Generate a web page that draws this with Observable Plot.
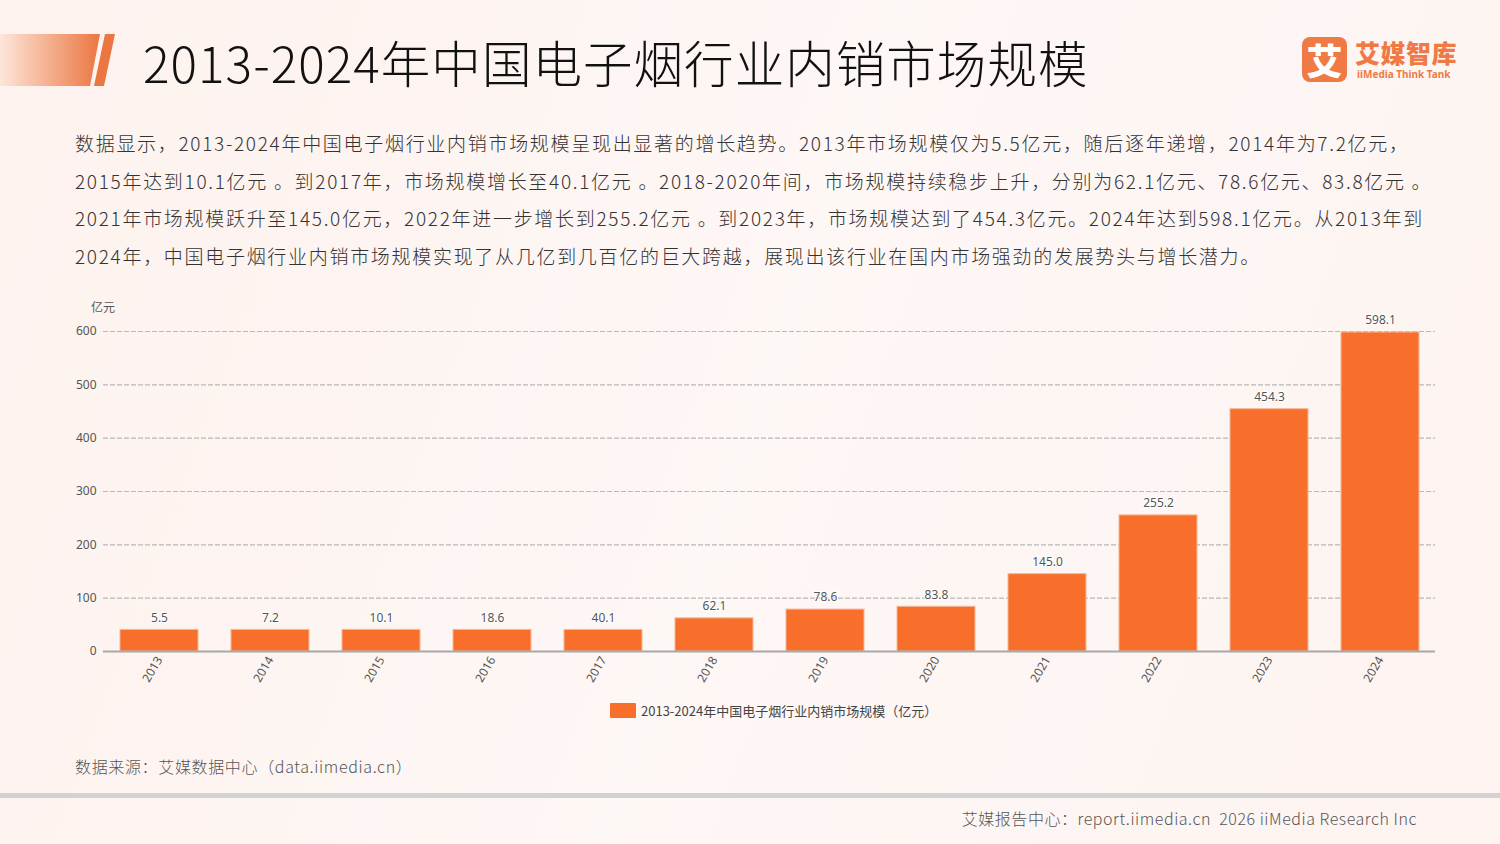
<!DOCTYPE html>
<html>
<head>
<meta charset="utf-8">
<script src="https://cdn.jsdelivr.net/npm/d3@7"></script>
<script src="https://cdn.jsdelivr.net/npm/@observablehq/plot@0.6"></script>
<style>
  html, body { margin: 0; padding: 0; }
  body {
    width: 1500px; height: 844px; position: relative; overflow: hidden;
    background: linear-gradient(110deg, #fdf2ee 0%, #fdf7f5 50%, #fdf4f1 100%);
    font-family: "Noto Sans CJK SC", "Noto Sans", sans-serif;
  }
  .abs { position: absolute; white-space: pre; }
  #title { left: 143px; top: 26px; font-size: 49.5px; color: #111; letter-spacing: 1.05px; font-weight: 300; }
  #para { left: 75px; top: 124px; font-size: 19px; color: #333; line-height: 37.7px; letter-spacing: 1.7px; font-weight: 300; }
  #unit { left: 91px; top: 298px; font-size: 12px; color: #555; }
  #legend { left: 610px; top: 701px; font-size: 13px; color: #444; display: flex; align-items: center; }
  #legend .sw { width: 26px; height: 15px; background: #f76f2b; margin-right: 5px; border-radius: 1px; }
  #source { left: 75px; top: 754px; font-size: 16px; color: #555; letter-spacing: 0.65px; font-weight: 300; }
  #sep { left: 0; top: 793px; width: 1500px; height: 5px; background: #d2d2d2; }
  #footer { right: 83px; top: 806px; font-size: 16px; color: #555; letter-spacing: 0.55px; font-weight: 300; }
  #chart { left: 0; top: 290px; }
  #logoBox { left: 1302px; top: 37px; width: 45px; height: 45px; background: #ef7a45; border-radius: 8px; color: #fff; font-size: 36px; font-weight: 900; text-align: center; line-height: 45px; }
  #logoCn { left: 1355px; top: 34px; font-size: 25px; font-weight: 900; color: #ef7a45; letter-spacing: 0.5px; }
  #logoEn { left: 1357px; top: 67px; font-size: 10px; font-weight: 700; color: #ef7a45; font-family: "Noto Sans", sans-serif; }
</style>
</head>
<body>
<svg class="abs" style="left:0;top:34px" width="120" height="52">
  <defs>
    <linearGradient id="g1" x1="0" x2="1" y1="0" y2="0">
      <stop offset="0" stop-color="#fde6da"/>
      <stop offset="1" stop-color="#ec7641"/>
    </linearGradient>
  </defs>
  <polygon points="0,0 100,0 90,52 0,52" fill="url(#g1)"/>
  <polygon points="105,0 115,0 104,52 94,52" fill="#ec7641"/>
</svg>
<div id="title" class="abs"></div>
<div id="logoBox" class="abs">艾</div>
<div id="logoCn" class="abs">艾媒智库</div>
<div id="logoEn" class="abs">iiMedia Think Tank</div>
<div id="para" class="abs"></div>
<div id="unit" class="abs"></div>
<div id="chart" class="abs"></div>
<div id="legend" class="abs"><div class="sw"></div><span id="legendText"></span></div>
<div id="source" class="abs"></div>
<div id="sep" class="abs"></div>
<div id="footer" class="abs"></div>
<script>
const titleText = "2013-2024年中国电子烟行业内销市场规模";
const paragraphLines = [
  "数据显示，2013-2024年中国电子烟行业内销市场规模呈现出显著的增长趋势。2013年市场规模仅为5.5亿元，随后逐年递增，2014年为7.2亿元，",
  "2015年达到10.1亿元 。到2017年，市场规模增长至40.1亿元 。2018-2020年间，市场规模持续稳步上升，分别为62.1亿元、78.6亿元、83.8亿元 。",
  "2021年市场规模跃升至145.0亿元，2022年进一步增长到255.2亿元 。到2023年，市场规模达到了454.3亿元。2024年达到598.1亿元。从2013年到",
  "2024年，中国电子烟行业内销市场规模实现了从几亿到几百亿的巨大跨越，展现出该行业在国内市场强劲的发展势头与增长潜力。"
];
const unitText = "亿元";
const legendText = "2013-2024年中国电子烟行业内销市场规模（亿元）";
const sourceText = "数据来源：艾媒数据中心（data.iimedia.cn）";
const footerText = "艾媒报告中心：report.iimedia.cn  2026 iiMedia Research Inc";

// categories
const years = ["2013","2014","2015","2016","2017","2018","2019","2020","2021","2022","2023","2024"];
// bar heights as drawn in the picture (亿元)
const barHeights = [40.5, 40.5, 40.5, 40.5, 40.5, 62.1, 78.6, 83.8, 145.0, 255.2, 454.3, 598.1];
// value labels as printed
const valueLabels = ["5.5","7.2","10.1","18.6","40.1","62.1","78.6","83.8","145.0","255.2","454.3","598.1"];
const yTicks = [0, 100, 200, 300, 400, 500, 600];

document.getElementById("title").textContent = titleText;
document.getElementById("para").innerHTML = paragraphLines.map(l => `<div>${l}</div>`).join("");
document.getElementById("unit").textContent = unitText;
document.getElementById("legendText").textContent = legendText;
document.getElementById("source").textContent = sourceText;
document.getElementById("footer").textContent = footerText;

const data = years.map((y, i) => ({year: y, h: barHeights[i], label: valueLabels[i]}));

const chart = Plot.plot({
  width: 1500,
  height: 400,
  marginTop: 41,
  marginBottom: 39,
  marginLeft: 103,
  marginRight: 65,
  style: {background: "transparent", fontFamily: "Noto Sans, sans-serif", fontSize: "12px", color: "#555"},
  x: {domain: years, paddingInner: 0.3, paddingOuter: 0.15, label: null, tickSize: 0, tickRotate: -60, tickPadding: 6},
  y: {domain: [0, 600], ticks: yTicks, label: null, tickSize: 0, tickPadding: 7},
  marks: [
    Plot.ruleY(yTicks.filter(t => t > 0), {stroke: "#b8b8b8", strokeWidth: 1.2, strokeDasharray: "5,2"}),
    Plot.barY(data, {x: "year", y: "h", fill: "#f76f2b", stroke: "#f4b896", strokeWidth: 1}),
    Plot.ruleY([0], {stroke: "#a8a8a8", strokeWidth: 2}),
    Plot.text(data, {x: "year", y: "h", text: "label", dy: -12, fill: "#555", fontSize: 12, stroke: "#fff", strokeWidth: 2})
  ]
});
document.getElementById("chart").appendChild(chart);
</script>
</body>
</html>
